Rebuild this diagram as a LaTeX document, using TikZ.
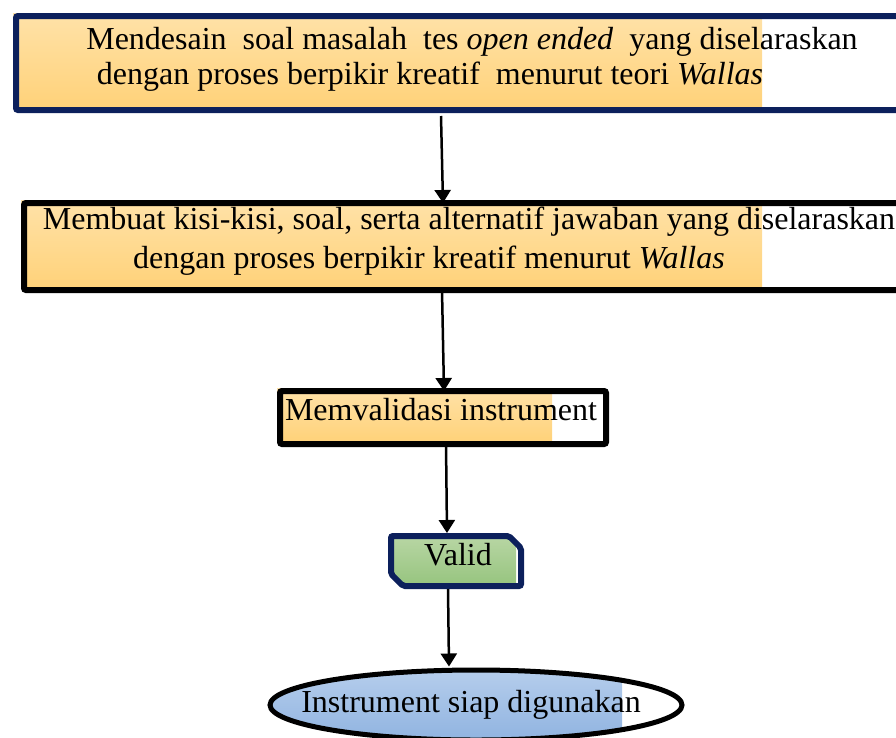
\documentclass[tikz,border=0pt]{standalone}
\usepackage{fontspec}
\setmainfont{Liberation Serif}
\usetikzlibrary{arrows.meta,shapes.geometric}
\definecolor{navy}{RGB}{12,32,92}
\definecolor{orT}{RGB}{255,226,168}
\definecolor{orB}{RGB}{255,210,122}
\definecolor{grT}{RGB}{184,214,164}
\definecolor{grB}{RGB}{150,196,126}
\definecolor{blT}{RGB}{182,206,236}
\definecolor{blB}{RGB}{142,178,224}
\begin{document}
\begin{tikzpicture}[x=1pt,y=-1pt,
  boxnode/.style={line width=6pt, rounded corners=2pt, inner sep=0pt, anchor=north west},
  txt/.style={inner sep=0pt, font=\fontsize{32}{35}\selectfont},
  arr/.style={line width=2.5pt, -{Triangle[length=13pt,width=16pt]}, shorten >=0pt}]
\useasboundingbox (0,0) rectangle (896,737);
% fills
\shade[top color=orT, bottom color=orB] (13,13) rectangle (762,107);
\shade[top color=orT, bottom color=orB] (21,200) rectangle (762,287);
\shade[top color=orT, bottom color=orB] (277,388) rectangle (552,441);
\begin{scope}
  \clip (391,536) -- (509,536) -- (521,548) -- (521,586) -- (403,586) -- (391,574) -- cycle;
  \shade[top color=grT, bottom color=grB] (391,536) rectangle (516,586);
\end{scope}
\begin{scope}
  \clip (476,705) ellipse [x radius=206, y radius=35];
  \shade[top color=blT, bottom color=blB] (260,668) rectangle (622,745);
\end{scope}
% boxes
\node[boxnode, draw=navy, minimum width=900pt, minimum height=94pt] (b1) at (13,13) {};
\node[boxnode, draw=black, minimum width=900pt, minimum height=87pt] (b2) at (21,200) {};
\node[boxnode, draw=black, minimum width=326pt, minimum height=53pt] (b3) at (277,388) {};
\draw[navy, line width=6pt, rounded corners=2pt]
  (391,536) -- (509,536) -- (521,548) -- (521,586) -- (403,586) -- (391,574) -- cycle;
\coordinate (b4n) at (447,533);
\coordinate (b4s) at (448,589);
\node[draw=black, line width=5pt, ellipse, minimum width=412pt, minimum height=70pt, inner sep=0pt] (b5) at (476,705) {};
% texts
\node[txt] (t1a) at (472,42) {Mendesain\ \ soal masalah\ \ tes \textit{open ended}\ \ yang diselaraskan};
\node[txt] (t1b) at (430,77) {dengan proses berpikir kreatif\ \ menurut teori \textit{Wallas}};
\node[txt] (t2a) at (469,222) {Membuat kisi-kisi, soal, serta alternatif jawaban yang diselaraskan};
\node[txt] (t2b) at (429,261) {dengan proses berpikir kreatif menurut \textit{Wallas}};
\node[txt] (t3) at (441,410) {Memvalidasi instrument};
\node[txt] (t4) at (458,555) {Valid};
\node[txt] (t5) at (471,705) {Instrument siap digunakan};
% arrows
\draw[arr] ([xshift=428pt,yshift=-3pt]b1.south west) -- ([xshift=422pt,yshift=-3pt]b2.north west);
\draw[arr] ([xshift=421pt,yshift=3pt]b2.south west) -- ([xshift=167pt,yshift=-3pt]b3.north west);
\draw[arr] ([xshift=169pt,yshift=3pt]b3.south west) -- (b4n);
\draw[arr] (b4s) -- ([xshift=-27pt,yshift=1pt]b5.north);
\end{tikzpicture}
\end{document}
